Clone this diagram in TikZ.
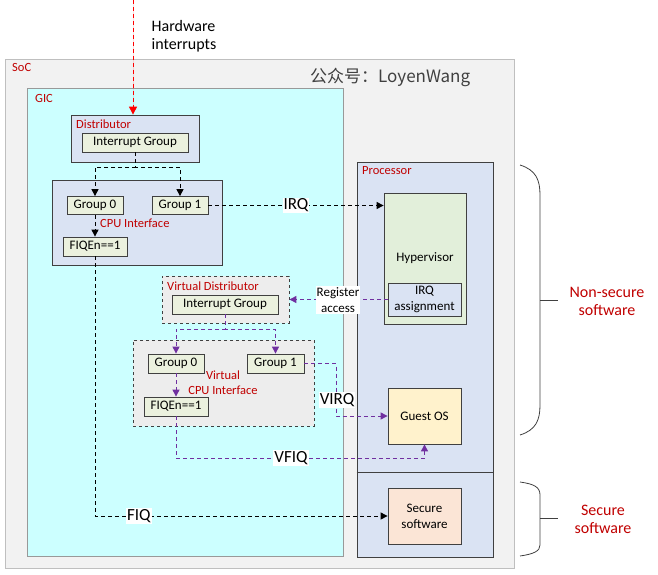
\documentclass[tikz,border=0pt]{standalone}
\usepackage{fontspec}
\setmainfont{Carlito}
\newfontfamily\cjkfont{Noto Sans CJK SC}
\usepackage{xcolor}
\usetikzlibrary{arrows.meta}

\definecolor{socfill}{HTML}{F2F2F2}
\definecolor{socline}{HTML}{BFBFBF}
\definecolor{gicfill}{HTML}{CCFFFF}
\definecolor{blockfill}{HTML}{DAE3F3}
\definecolor{grpfill}{HTML}{EBF1DE}
\definecolor{hypfill}{HTML}{E2EFDA}
\definecolor{guestfill}{HTML}{FFF2CC}
\definecolor{securefill}{HTML}{FBE5D6}
\definecolor{virtfill}{HTML}{EDEDED}
\definecolor{darkline}{HTML}{404040}
\definecolor{titlered}{HTML}{C00000}
\definecolor{virtpurple}{HTML}{7030A0}

\tikzset{
  box/.style={draw=darkline, line width=0.8pt, inner sep=0pt, align=center,
    font=\fontsize{13}{16}\selectfont},
  grpbox/.style={box, fill=grpfill},
  title/.style={anchor=west, inner sep=0pt, text=titlered, align=center,
    font=\fontsize{12.5}{15}\selectfont},
  sigline/.style={line width=1pt, dash pattern=on 4pt off 3pt,
    -{Triangle[length=7pt,width=7pt]}},
  siglabel/.style={fill=white, inner sep=1pt, font=\fontsize{17}{19}\selectfont},
}

\begin{document}
\begin{tikzpicture}[x=1pt,y=1pt,yscale=-1]
\useasboundingbox (0,0) rectangle (658,575);

% SoC and GIC
\node[draw=socline, fill=socfill, minimum width=509, minimum height=509, inner sep=0pt] (soc) at (259.5,313.5) {};
\node[title] (soctitle) at (12,67) {SoC};
\node[anchor=west, inner sep=0pt, text=darkline, font=\cjkfont\fontsize{17}{19}\selectfont] (mark) at (310,77) {公众号：LoyenWang};
\node[draw=socline!80!black, fill=gicfill, minimum width=316, minimum height=468, inner sep=0pt] (gic) at (185,322) {};
\node[title] (gictitle) at (35,98) {GIC};

% Distributor and CPU interface
\node[box, fill=blockfill, minimum width=128, minimum height=47] (dist) at (135,138.5) {};
\node[title] (disttitle) at (76,124) {Distributor};
\node[grpbox, minimum width=106, minimum height=19] (distig) at (135,142.5) {Interrupt Group};
\node[box, fill=blockfill, minimum width=170, minimum height=85] (cpuif) at (137,222.5) {};
\node[grpbox, minimum width=56, minimum height=18] (g0) at (95,205.5) {Group 0};
\node[grpbox, minimum width=56, minimum height=18] (g1) at (180,205.5) {Group 1};
\node[grpbox, minimum width=64, minimum height=19] (fiq) at (95,246.5) {FIQEn==1};
\node[title] (cputitle) at (100,223) {CPU Interface};

% Virtual distributor and virtual CPU interface
\node[box, dashed, fill=virtfill, minimum width=127, minimum height=47] (vdist) at (225.5,299.5) {};
\node[title] (vdisttitle) at (167,286) {Virtual Distributor};
\node[grpbox, minimum width=106, minimum height=19] (vdistig) at (225,304.5) {Interrupt Group};
\node[box, dashed, fill=virtfill, minimum width=181, minimum height=86] (vcpuif) at (223.5,383) {};
\node[grpbox, minimum width=56, minimum height=19] (vg0) at (176,363.5) {Group 0};
\node[grpbox, minimum width=57, minimum height=19] (vg1) at (275.5,363.5) {Group 1};
\node[grpbox, minimum width=64, minimum height=19] (vfiq) at (176,406.5) {FIQEn==1};
\node[title, anchor=center] (vcputitle) at (223,383) {Virtual\\CPU Interface};

% Processor
\node[box, fill=blockfill, minimum width=136, minimum height=395] (proc) at (425,359.5) {};
\draw[draw=darkline, line width=0.8pt] (proc.west |- 0,472) -- (proc.east |- 0,472);
\node[title] (proctitle) at (362,171) {Processor};
\node[box, fill=hypfill, minimum width=82, minimum height=131] (hyp) at (425,258.5) {Hypervisor};
\node[box, fill=blockfill, minimum width=73, minimum height=33, font=\fontsize{13}{16}\selectfont] (irqa) at (424.5,299.5) {IRQ\\assignment};
\node[box, fill=guestfill, minimum width=73, minimum height=56] (guest) at (424.5,416) {Guest OS};
\node[box, fill=securefill, minimum width=73, minimum height=56, font=\fontsize{13}{16}\selectfont] (sec) at (424.5,516) {Secure\\software};

% hardware interrupts
\coordinate (hwtop) at (133,0);
\draw[sigline, draw=red, fill=red, -{Triangle[length=8pt,width=8pt]}] (hwtop) -- (hwtop |- dist.north);
\node[inner sep=0pt, align=left, font=\fontsize{16}{18}\selectfont] (hwlabel) at (184,36) {Hardware\\interrupts};

% physical interrupt paths
\draw[sigline] (distig.south) -- ++(0,15) -| (g0.north);
\draw[sigline] (distig.south) -- ++(0,15) -| (g1.north);
\draw[sigline] (g0.south) -- (fiq.north);
\draw[sigline] (g1.east) -- (g1.east -| hyp.west) node[siglabel, pos=0.5] (irqlabel) {IRQ};
\draw[sigline] (fiq.south) -- (fiq.south |- sec.west) -- (sec.west) node[siglabel, pos=0.15] (fiqlabel) {FIQ};

% virtual interrupt paths
\begin{scope}[draw=virtpurple, fill=virtpurple]
\draw[sigline] (vdistig.south) -- ++(0,15) -| (vg0.north);
\draw[sigline] (vdistig.south) -- ++(0,15) -| (vg1.north);
\draw[sigline] (vg0.south) -- (vfiq.north);
\draw[sigline] (vg1.east) -- ++(32,0) |- (guest.west);
\draw[sigline] (vfiq.south) -- ++(0,42) -| (guest.south);
\draw[sigline] (irqa.west) -- (vdist.east);
\end{scope}
\node[siglabel] (virqlabel) at (337,400) {VIRQ};
\node[siglabel] (vfiqlabel) at (291,458) {VFIQ};
\node[fill=white, inner sep=1pt, align=center, font=\fontsize{13}{16}\selectfont] (reglabel) at (338,300) {Register\\access};

% braces
\draw[darkline, line width=0.8pt] (520,165) .. controls (536,170) and (540,180) .. (540,195) -- (540,405) .. controls (540,420) and (536,430) .. (520,435);
\draw[darkline, line width=0.8pt] (540,300) -- (558,300);
\node[align=center, inner sep=0pt, text=titlered, font=\fontsize{16}{18}\selectfont] (nslabel) at (607,301) {Non-secure\\software};
\draw[darkline, line width=0.8pt] (520,482) .. controls (534,484) and (540,487) .. (540,495) -- (540,545) .. controls (540,551) and (534,554) .. (520,556);
\draw[darkline, line width=0.8pt] (540,518) -- (558,518);
\node[align=center, inner sep=0pt, text=titlered, font=\fontsize{16}{18}\selectfont] (slabel) at (603,519) {Secure\\software};
\end{tikzpicture}
\end{document}
